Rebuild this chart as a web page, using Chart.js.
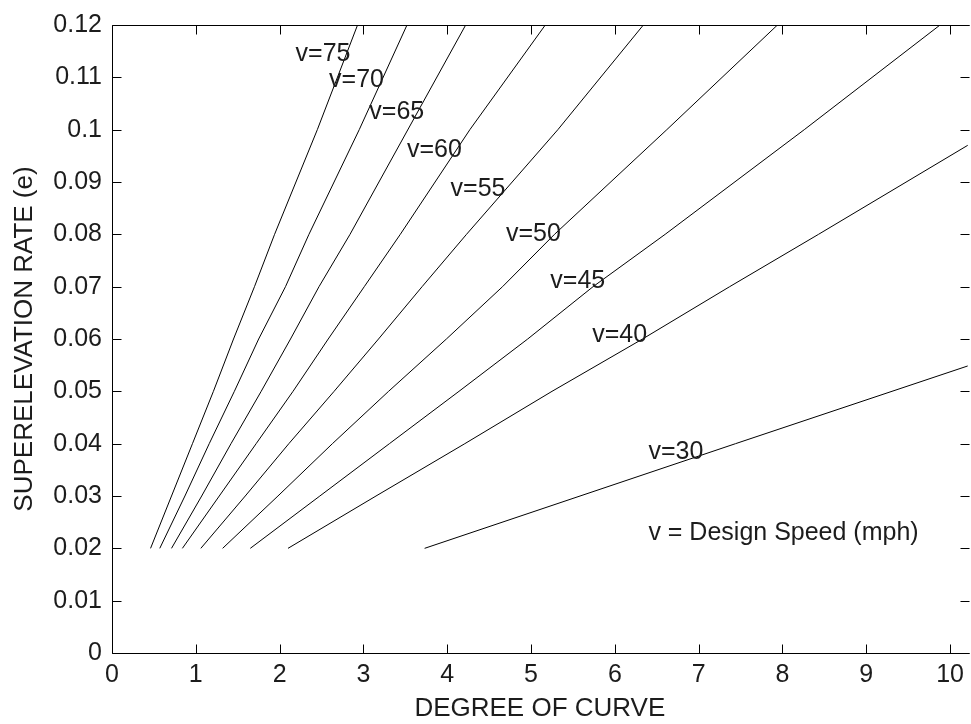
<!DOCTYPE html>
<html>
<head>
<meta charset="utf-8">
<script src="https://cdn.jsdelivr.net/npm/chart.js@4.4.1/dist/chart.umd.min.js"></script>
<style>
  html, body { margin: 0; padding: 0; background: #fff; overflow: hidden; }
</style>
</head>
<body>
<canvas id="chart" width="971" height="724"></canvas>
<script>
(function () {
  'use strict';

  // Degree of curve (x) and superelevation rate (y)
  var degree75 = [0.46, 0.71, 0.96, 1.21, 1.45, 1.70, 1.94, 2.45, 2.93];
  var rate75   = [0.02, 0.03, 0.04, 0.05, 0.06, 0.07, 0.08, 0.10, 0.12];
  var degree70 = [0.57, 0.87, 1.16, 1.46, 1.75, 2.07, 2.35, 2.95, 3.52];
  var rate70   = [0.02, 0.03, 0.04, 0.05, 0.06, 0.07, 0.08, 0.10, 0.12];
  var degree65 = [0.71, 1.07, 1.42, 1.78, 2.13, 2.47, 2.84, 4.22];
  var rate65   = [0.02, 0.03, 0.04, 0.05, 0.06, 0.07, 0.08, 0.12];
  var degree60 = [0.84, 1.28, 1.72, 2.16, 2.58, 3.01, 3.44, 4.27, 5.17];
  var rate60   = [0.02, 0.03, 0.04, 0.05, 0.06, 0.07, 0.08, 0.10, 0.12];
  var degree55 = [1.06, 1.59, 2.11, 2.65, 3.18, 3.70, 4.23, 5.32, 6.34];
  var rate55   = [0.02, 0.03, 0.04, 0.05, 0.06, 0.07, 0.08, 0.10, 0.12];
  var degree50 = [1.32, 1.98, 2.63, 3.30, 3.99, 4.66, 5.28, 6.62, 7.94];
  var rate50   = [0.02, 0.03, 0.04, 0.05, 0.06, 0.07, 0.08, 0.10, 0.12];
  var degree45 = [1.65, 2.48, 3.31, 4.14, 4.96, 5.74, 6.60, 8.26, 9.88];
  var rate45   = [0.02, 0.03, 0.04, 0.05, 0.06, 0.07, 0.08, 0.10, 0.12];
  var degree40 = [2.10, 3.15, 4.21, 5.25, 6.33, 7.37, 8.43, 10.22];
  var rate40   = [0.02, 0.03, 0.04, 0.05, 0.06, 0.07, 0.08, 0.0971];
  var degree30 = [3.73, 7.44, 10.22];
  var rate30   = [0.02, 0.04, 0.0549];

  var speeds = [75, 70, 65, 60, 55, 50, 45, 40, 30];
  var degrees = [degree75, degree70, degree65, degree60, degree55, degree50, degree45, degree40, degree30];
  var rates = [rate75, rate70, rate65, rate60, rate55, rate50, rate45, rate40, rate30];

  // Where each "v=.." label sits (data coords of its left/middle)
  var labelDegree = [2.19, 2.59, 3.07, 3.52, 4.04, 4.70, 5.23, 5.73, 6.40];
  var labelRate   = [0.1145, 0.1095, 0.1034, 0.0960, 0.0886, 0.0800, 0.0710, 0.0608, 0.0383];
  var noteText = 'v = Design Speed (mph)';
  var noteDegree = 6.40;
  var noteRate = 0.0229;

  var xTicks = [0, 1, 2, 3, 4, 5, 6, 7, 8, 9, 10];
  var yTicks = [0, 0.01, 0.02, 0.03, 0.04, 0.05, 0.06, 0.07, 0.08, 0.09, 0.10, 0.11, 0.12];

  var FONT = '"Liberation Sans", Arial, sans-serif';
  var INK = '#1c1c1c';

  Chart.defaults.font.family = FONT;
  Chart.defaults.font.size = 25;
  Chart.defaults.color = INK;

  var datasets = speeds.map(function (v, i) {
    return {
      label: 'v=' + v,
      data: degrees[i].map(function (d, j) { return { x: d, y: rates[i][j] }; }),
      showLine: true,
      borderColor: '#000',
      borderWidth: 1,
      pointRadius: 0,
      tension: 0
    };
  });

  // Box on left/bottom/top plus inward ticks on all four sides
  var frameTicks = {
    id: 'frameTicks',
    afterDraw: function (chart) {
      var ctx = chart.ctx, a = chart.chartArea;
      var xs = chart.scales.x, ys = chart.scales.y;
      var L = Math.round(a.left) + 0.5, R = Math.round(a.right) - 0.5;
      var T = Math.round(a.top) + 0.5, B = Math.round(a.bottom) + 0.5;
      var len = 9;
      ctx.save();
      ctx.strokeStyle = '#000';
      ctx.lineWidth = 1;
      ctx.beginPath();
      ctx.moveTo(R + 2, T); ctx.lineTo(L, T); ctx.lineTo(L, B); ctx.lineTo(R + 2, B);
      xTicks.forEach(function (v) {
        var px = Math.round(xs.getPixelForValue(v)) + 0.5;
        ctx.moveTo(px, B); ctx.lineTo(px, B - len);
        ctx.moveTo(px, T); ctx.lineTo(px, T + len);
      });
      yTicks.forEach(function (v) {
        var py = Math.round(ys.getPixelForValue(v)) + 0.5;
        ctx.moveTo(L, py); ctx.lineTo(L + len, py);
        ctx.moveTo(R + 2, py); ctx.lineTo(R + 2 - len, py);
      });
      ctx.stroke();
      ctx.restore();
    }
  };

  var curveLabels = {
    id: 'curveLabels',
    afterDatasetsDraw: function (chart) {
      var ctx = chart.ctx, xs = chart.scales.x, ys = chart.scales.y;
      ctx.save();
      ctx.font = '25px ' + FONT;
      ctx.fillStyle = INK;
      ctx.textAlign = 'left';
      ctx.textBaseline = 'middle';
      speeds.forEach(function (v, i) {
        ctx.fillText('v=' + v, xs.getPixelForValue(labelDegree[i]), ys.getPixelForValue(labelRate[i]));
      });
      ctx.fillText(noteText, xs.getPixelForValue(noteDegree), ys.getPixelForValue(noteRate));
      ctx.restore();
    }
  };

  new Chart(document.getElementById('chart'), {
    type: 'scatter',
    data: { datasets: datasets },
    plugins: [frameTicks, curveLabels],
    options: {
      responsive: false,
      animation: false,
      layout: { padding: { top: 23, right: 0, bottom: 0, left: 0 } },
      plugins: {
        legend: { display: false },
        tooltip: { enabled: false }
      },
      scales: {
        x: {
          type: 'linear',
          min: 0,
          max: 10.21,
          afterBuildTicks: function (s) { s.ticks = xTicks.map(function (v) { return { value: v }; }); },
          afterFit: function (s) { s.height = 71; },
          ticks: { padding: 7, autoSkip: false, maxRotation: 0, includeBounds: false },
          grid: { display: false, drawTicks: false },
          border: { display: false },
          title: {
            display: true,
            text: 'DEGREE OF CURVE',
            font: { size: 26 },
            padding: { top: 0, bottom: 0 }
          }
        },
        y: {
          type: 'linear',
          min: 0,
          max: 0.12,
          afterBuildTicks: function (s) { s.ticks = yTicks.map(function (v) { return { value: v }; }); },
          afterFit: function (s) { s.width = 112; },
          ticks: {
            padding: 10,
            autoSkip: false,
            callback: function (v) { return String(+Number(v).toFixed(2)); }
          },
          grid: { display: false, drawTicks: false },
          border: { display: false },
          title: {
            display: true,
            text: 'SUPERELEVATION RATE (e)',
            font: { size: 26 },
            padding: { top: 9, bottom: 0 }
          }
        }
      }
    }
  });
})();
</script>
</body>
</html>
